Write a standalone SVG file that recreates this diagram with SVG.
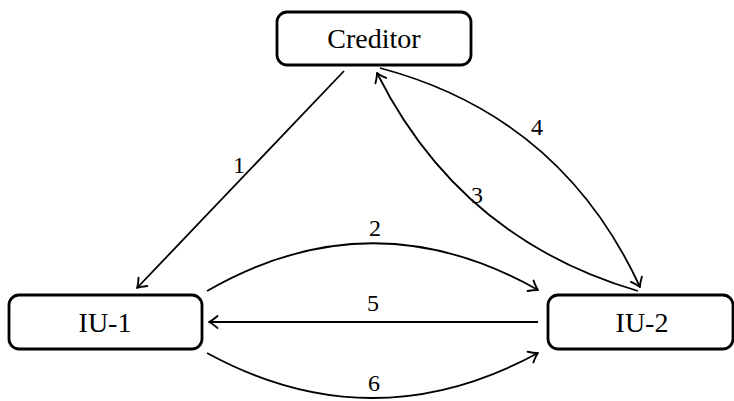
<svg xmlns="http://www.w3.org/2000/svg" width="734" height="401" viewBox="0 0 734 401">
<defs>
<style>
.node rect{fill:#fff;stroke:#000;stroke-width:2.8}
.node text{font-family:"Liberation Serif",serif;font-size:28px;text-anchor:middle;fill:#000}
.edge{fill:none;stroke:#000;stroke-width:1.8;marker-end:url(#arr)}
.lbl{font-family:"Liberation Serif",serif;font-size:24px;text-anchor:middle;fill:#000}
</style>
<marker id="arr" markerUnits="userSpaceOnUse" markerWidth="20" markerHeight="20" viewBox="-10 -10 20 20" refX="0" refY="0" orient="auto" overflow="visible">
<path d="M-8.5,-6 Q-3,-1.3 0,0 Q-3,1.3 -8.5,6" fill="none" stroke="#000" stroke-width="1.9" stroke-linecap="round" stroke-linejoin="round"/>
</marker>
</defs>
<rect width="734" height="401" fill="#fff"/>
<g id="connectors">
<path class="edge" d="M344,71 L137,288"/>
<path class="edge" d="M207,291 Q372,196 538,290"/>
<path class="edge" d="M538,322 L209,322"/>
<path class="edge" d="M207,353 Q372,443 538,353"/>
<path class="edge" d="M638,291 Q460,239 377,73"/>
<path class="edge" d="M380,68 Q561,116 640,287"/>
<text class="lbl" x="239" y="173">1</text>
<text class="lbl" x="375" y="236">2</text>
<text class="lbl" x="477" y="203">3</text>
<text class="lbl" x="537" y="135">4</text>
<text class="lbl" x="373" y="311">5</text>
<text class="lbl" x="374" y="391">6</text>
</g>
<g id="creditor" class="node">
<rect x="277" y="12" width="194" height="53" rx="10"/>
<text x="374" y="48">Creditor</text>
</g>
<g id="iu1" class="node">
<rect x="9" y="295" width="193" height="54" rx="10"/>
<text x="105" y="332">IU-1</text>
</g>
<g id="iu2" class="node">
<rect x="548" y="295" width="185" height="54" rx="10"/>
<text x="642" y="332">IU-2</text>
</g>
</svg>
